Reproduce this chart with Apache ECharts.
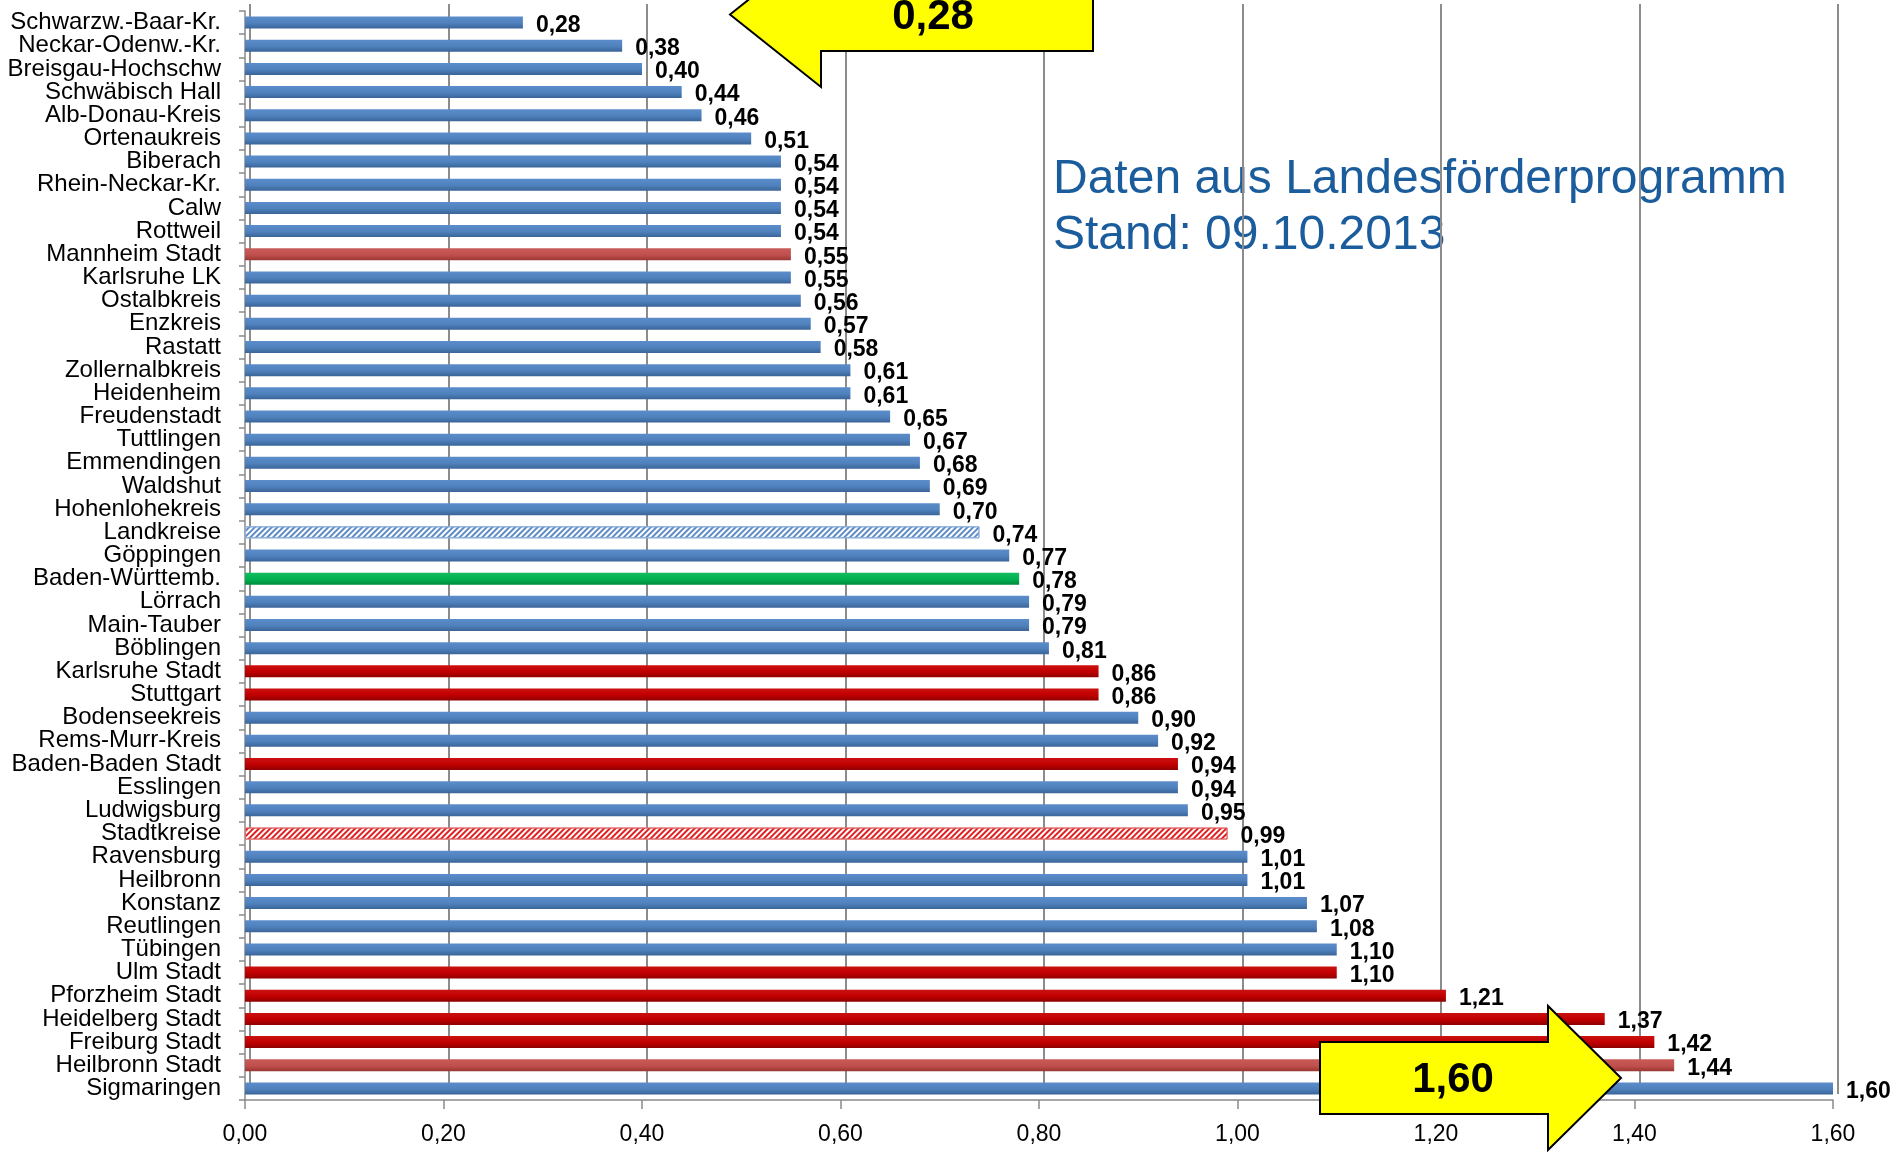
<!DOCTYPE html>
<html>
<head>
<meta charset="utf-8">
<script src="https://cdn.jsdelivr.net/npm/echarts@6/dist/echarts.min.js"></script>
<style>
html,body{margin:0;padding:0;background:#fff;}
#chart{width:1893px;height:1152px;}
</style>
</head>
<body>
<div id="chart"></div>
<script>
const categories = [
  'Schwarzw.-Baar-Kr.','Neckar-Odenw.-Kr.','Breisgau-Hochschw','Schwäbisch Hall','Alb-Donau-Kreis',
  'Ortenaukreis','Biberach','Rhein-Neckar-Kr.','Calw','Rottweil','Mannheim Stadt','Karlsruhe LK',
  'Ostalbkreis','Enzkreis','Rastatt','Zollernalbkreis','Heidenheim','Freudenstadt','Tuttlingen',
  'Emmendingen','Waldshut','Hohenlohekreis','Landkreise','Göppingen','Baden-Württemb.','Lörrach',
  'Main-Tauber','Böblingen','Karlsruhe Stadt','Stuttgart','Bodenseekreis','Rems-Murr-Kreis',
  'Baden-Baden Stadt','Esslingen','Ludwigsburg','Stadtkreise','Ravensburg','Heilbronn','Konstanz',
  'Reutlingen','Tübingen','Ulm Stadt','Pforzheim Stadt','Heidelberg Stadt','Freiburg Stadt',
  'Heilbronn Stadt','Sigmaringen'
];
const values = [
  0.28,0.38,0.40,0.44,0.46,0.51,0.54,0.54,0.54,0.54,0.55,0.55,0.56,0.57,0.58,0.61,0.61,0.65,0.67,
  0.68,0.69,0.70,0.74,0.77,0.78,0.79,0.79,0.81,0.86,0.86,0.90,0.92,0.94,0.94,0.95,0.99,1.01,1.01,
  1.07,1.08,1.10,1.10,1.21,1.37,1.42,1.44,1.60
];
// group of each category: k = Landkreis, s = Stadtkreis, s2 = Stadtkreis (light), L = Landkreise avg, S = Stadtkreise avg, B = Baden-Württemberg
const groups = [
  'k','k','k','k','k','k','k','k','k','k','s2','k','k','k','k','k','k','k','k','k','k','k','L','k','B','k',
  'k','k','s','s','k','k','s','k','k','S','k','k','k','k','k','s','s','s','s','s2','k'
];
const tickLabels = ['0,00','0,20','0,40','0,60','0,80','1,00','1,20','1,40','1,60'];
const noteLines = ['Daten aus Landesförderprogramm','Stand: 09.10.2013'];
const arrowLow = '0,28';
const arrowHigh = '1,60';

function grad(top, mid, bottom) {
  return {type:'linear',x:0,y:0,x2:0,y2:1,colorStops:[
    {offset:0,color:top},{offset:0.55,color:mid},{offset:1,color:bottom}]};
}
const styles = {
  k: {color: grad('#5C8DCB','#4F81BD','#3A6497')},
  s: {color: grad('#CC1010','#C00000','#8E0000')},
  s2:{color: grad('#C95B58','#C0504D','#9A3734')},
  B: {color: grad('#14BE60','#00B050','#008A3C')},
  L: {color:'#ffffff', borderColor:'#8DB0DB', borderWidth:1,
      decal:{symbol:'rect',symbolSize:1,color:'#5F8CC6',dashArrayX:[1,0],dashArrayY:[2,2],rotation:-Math.PI/4}},
  S: {color:'#ffffff', borderColor:'#E07070', borderWidth:1,
      decal:{symbol:'rect',symbolSize:1,color:'#E02020',dashArrayX:[1,0],dashArrayY:[2,2],rotation:-Math.PI/4}}
};

const fmt = v => v.toFixed(2).replace('.', ',');
const FONT = '"Liberation Sans", Arial, sans-serif';

const chart = echarts.init(document.getElementById('chart'), null, {renderer:'canvas'});

const arrowStyle = {fill:'#FFFF00', stroke:'#000000', lineWidth:2};

chart.setOption({
  animation:false,
  backgroundColor:'#ffffff',
  grid:[
    {left:245, right:60, top:11, bottom:52},
    {left:250, right:55, top:4, bottom:58}
  ],
  xAxis:[
    {gridIndex:0, type:'value', min:0, max:1.6, interval:0.2,
     axisLine:{show:true, lineStyle:{color:'#8A8A8A', width:1.5}},
     axisTick:{show:true, length:9, lineStyle:{color:'#8A8A8A', width:1.5}},
     splitLine:{show:false},
     axisLabel:{margin:23, fontFamily:FONT, fontSize:23, color:'#000',
       formatter:(v)=>tickLabels[Math.round(v/0.2)]}},
    {gridIndex:1, type:'value', min:0, max:1.6, interval:0.2,
     axisLine:{show:false}, axisTick:{show:false}, axisLabel:{show:false},
     splitLine:{show:true, lineStyle:{color:'#8C8C8C', width:2}}}
  ],
  yAxis:[
    {gridIndex:0, type:'category', data:categories, inverse:true,
     axisLine:{show:true, lineStyle:{color:'#8A8A8A', width:1.5}},
     axisTick:{show:true, length:6, lineStyle:{color:'#8A8A8A', width:1.5}},
     axisLabel:{margin:24, fontFamily:FONT, fontSize:24, color:'#000', interval:0}},
    {gridIndex:1, type:'category', data:categories, inverse:true, show:false}
  ],
  series:[{
    type:'bar', xAxisIndex:0, yAxisIndex:0, barWidth:12, z:5,
    data: values.map((v,i)=>({value:v, itemStyle:styles[groups[i]]})),
    label:{show:true, position:'right', distance:13, offset:[0,3],
      fontFamily:FONT, fontSize:23, fontWeight:'bold', color:'#000',
      formatter:(p)=>fmt(p.value)}
  }],
  graphic:[
    {type:'text', left:1053, top:156, z:-10,
     style:{text:noteLines[0], font:'48px '+FONT, fill:'#1B5C9C'}},
    {type:'text', left:1053, top:212, z:-10,
     style:{text:noteLines[1], font:'48px '+FONT, fill:'#1B5C9C'}},
    {type:'polygon', z:100,
     shape:{points:[[730,14.5],[821,-58],[821,-22],[1093,-22],[1093,51],[821,51],[821,87]]},
     style:arrowStyle},
    {type:'text', z:101, x:933, y:17,
     style:{text:arrowLow, font:'bold 42px '+FONT, fill:'#000', align:'center', verticalAlign:'middle'}},
    {type:'polygon', z:100,
     shape:{points:[[1621,1078],[1548,1006],[1548,1042],[1320,1042],[1320,1114],[1548,1114],[1548,1150]]},
     style:arrowStyle},
    {type:'text', z:101, x:1453, y:1080,
     style:{text:arrowHigh, font:'bold 42px '+FONT, fill:'#000', align:'center', verticalAlign:'middle'}}
  ]
});
</script>
</body>
</html>
